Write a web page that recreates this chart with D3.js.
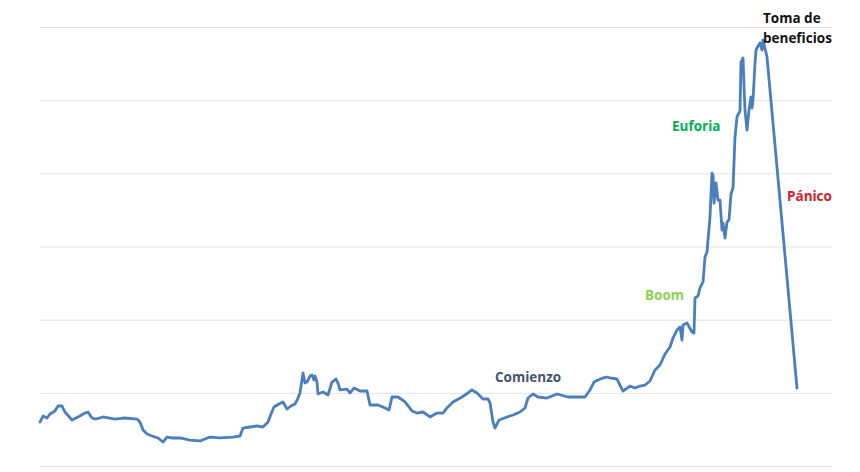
<!DOCTYPE html>
<html>
<head>
<meta charset="utf-8">
<script src="https://cdn.jsdelivr.net/npm/d3@7"></script>
<style>
  html, body { margin: 0; padding: 0; background: #fff; }
  svg { display: block; }
</style>
</head>
<body>
<svg id="chart" width="860" height="472"></svg>
<script>
// Time index (weeks) and price values
const weeks = [0,3,7,10,15,18,22,25,32,38,45,48,52,56,63,75,85,97,100,103,107,112,118,123,127,132,140,150,160,170,180,193,200,203,210,217,223,228,231,234,239,243,247,251,255,258,260,263,265,267,270,272,274,275,277,278,283,288,292,296,298,300,307,310,314,320,327,330,338,345,349,352,358,365,372,377,383,390,397,403,407,413,422,428,432,437,443,448,450,453,455,459,467,473,480,485,488,493,498,507,517,528,538,545,550,554,558,563,567,570,577,580,583,590,595,600,605,610,615,620,625,630,633,637,640,642,643,647,652,654,655,658,660,663,664,665,667,670,672,673,674,676,678,680,682,683,685,687,689,691,693,695,697,700,701,703,704,705,707,709,711,712,713,715,716,718,720,722,723,727,757];
const prices = [60.1,68.3,65.6,71.1,75.2,82.0,82.0,73.8,62.9,67.0,72.4,73.8,65.6,64.2,67.0,64.2,65.6,64.2,60.1,49.2,43.7,41.0,38.3,32.8,39.6,38.3,38.3,35.5,34.2,39.6,38.3,39.6,41.0,51.9,53.3,54.7,53.3,60.1,71.1,80.6,84.7,87.5,77.9,82.0,84.7,92.9,99.8,127.1,113.4,114.8,123.0,124.4,117.5,123.0,114.8,98.4,101.1,97.0,114.8,118.9,113.4,103.9,105.2,99.8,106.6,102.5,102.5,83.4,83.4,79.3,76.5,94.3,94.3,87.5,75.2,72.4,73.8,67.0,72.4,72.4,79.3,87.5,94.3,99.8,103.9,99.8,91.6,91.6,86.1,60.1,51.9,62.9,67.0,69.7,73.8,79.3,92.9,98.4,94.3,92.9,98.4,94.3,94.3,94.3,103.9,114.8,117.5,120.3,121.6,120.3,118.9,110.7,102.5,109.3,106.6,109.3,110.7,116.2,131.2,138.0,153.1,162.6,174.9,185.9,190.0,172.2,192.7,195.4,183.1,181.8,229.6,232.3,243.3,251.5,267.9,285.6,292.5,340.3,400.4,397.7,359.4,386.8,363.5,363.5,322.5,332.1,311.6,333.5,336.2,371.7,379.9,449.6,477.0,485.2,552.1,557.6,520.7,486.5,459.2,486.5,504.3,489.3,500.2,550.8,568.5,574.0,578.1,568.5,582.2,559.0,106.6];
const yTicks = [0,100,200,300,400,500,600];

// Phase annotations
const labelText = ["Comienzo","Boom","Euforia","Toma de","beneficios","Pánico"];
const labelWeek = [455,605,632,723,723,747];
const labelPrice = [121,233,465,612,585,368];
const labelColor = ["#44546a","#92d050","#00b050","#111111","#111111","#d0202a"];

const svg = d3.select("#chart");
const x = d3.scaleLinear().domain([0, 792]).range([40, 832]);
const y = d3.scaleLinear().domain([0, 600]).range([466, 27]);

// gridlines
svg.append("g")
  .attr("transform", "translate(40,0)")
  .call(d3.axisLeft(y).tickValues(yTicks).tickSize(-792).tickFormat(""))
  .call(g => g.select(".domain").remove())
  .call(g => g.selectAll("line").attr("stroke", "#e3e3e3").attr("stroke-width", 1));

const data = weeks.map((w, i) => ({w, p: prices[i]}));
svg.append("path")
  .datum(data)
  .attr("fill", "none")
  .attr("stroke", "#4a7ebf")
  .attr("stroke-width", 2.8)
  .attr("stroke-linejoin", "round")
  .attr("stroke-linecap", "round")
  .attr("d", d3.line().x(d => x(d.w)).y(d => y(d.p)));

svg.append("g").selectAll("text")
  .data(labelText)
  .join("text")
  .attr("x", (d, i) => x(labelWeek[i]))
  .attr("y", (d, i) => y(labelPrice[i]))
  .attr("dy", "0.35em")
  .attr("fill", (d, i) => labelColor[i])
  .attr("font-family", "'Open Sans', 'Noto Sans', sans-serif")
  .attr("font-weight", 700)
  .attr("font-size", 13.5)
  .text(d => d);
</script>
</body>
</html>
